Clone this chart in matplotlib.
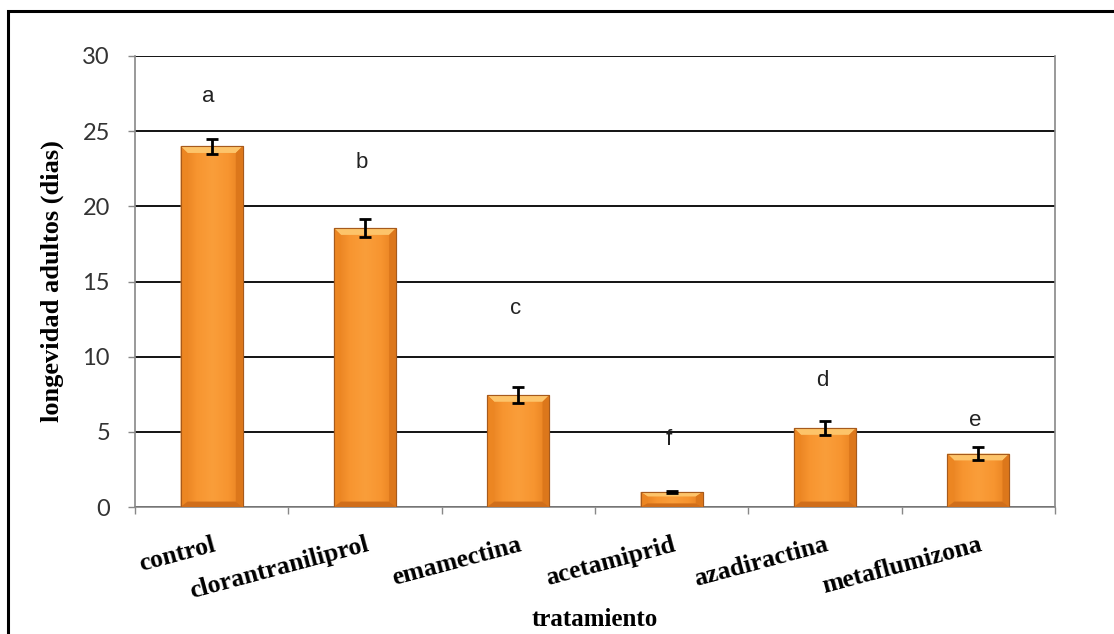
import numpy as np
import matplotlib
matplotlib.use("Agg")
import matplotlib.pyplot as plt
from matplotlib.patches import Polygon, Rectangle

# data
tratamientos = ['control', 'clorantraniliprol', 'emamectina',
                'acetamiprid', 'azadiractina', 'metaflumizona']
longevidad = [24.0, 18.55, 7.45, 1.0, 5.25, 3.55]
error = [0.5, 0.6, 0.53, 0.05, 0.45, 0.42]
letras = ['a', 'b', 'c', 'f', 'd', 'e']
letras_y = [27.3, 22.9, 13.2, 4.5, 8.4, 5.75]

W, H = 1114, 634
fig = plt.figure(figsize=(W / 100, H / 100), dpi=100, facecolor='w')
ax = fig.add_axes([135 / W, 1 - 507 / H, 920 / W, 451 / H])

# outer chart frame (right and bottom edges fall outside the picture)
fig.patches.append(Rectangle((8 / W, -0.05), 1.2, 1 - 11 / H + 0.05,
                             transform=fig.transFigure, fill=False,
                             edgecolor='black', lw=2.2, zorder=0))

x = np.arange(len(tratamientos))
bw = 0.405
bars = ax.bar(x, longevidad, width=bw, color='#F7962F', edgecolor='#A65A1C',
              lw=0.8, zorder=3)

# bevelled look of the bars
grad = np.linspace(0, 1, 64)
grad = 1 - 0.6 * np.abs(grad - 0.5) * 2
cmap = matplotlib.colors.LinearSegmentedColormap.from_list(
    'orange', ['#E67E1E', '#F79530', '#FA9E3A'])
for b, v in zip(bars, longevidad):
    x0 = b.get_x()
    im = ax.imshow(grad[None, :], extent=(x0, x0 + bw, 0, v), aspect='auto',
                   cmap=cmap, vmin=0.4, vmax=1, zorder=3.1)
    im.set_clip_path(b)
    dx, dy = 0.045, min(0.45, v * 0.3)
    ax.add_patch(Polygon([(x0, v), (x0 + bw, v), (x0 + bw - dx, v - dy),
                          (x0 + dx, v - dy)], closed=True,
                         facecolor='#FDC46A', edgecolor='none', zorder=3.2))
    ax.add_patch(Polygon([(x0, 0), (x0 + dx, dy * 0.8), (x0 + dx, v - dy),
                          (x0, v)], closed=True,
                         facecolor='#EC8622', edgecolor='none', zorder=3.2))
    ax.add_patch(Polygon([(x0 + bw, 0), (x0 + bw - dx, dy * 0.8),
                          (x0 + bw - dx, v - dy), (x0 + bw, v)], closed=True,
                         facecolor='#DC771B', edgecolor='none', zorder=3.2))
    ax.add_patch(Polygon([(x0, 0), (x0 + bw, 0), (x0 + bw - dx, dy * 0.8),
                          (x0 + dx, dy * 0.8)], closed=True,
                         facecolor='#D06E1A', edgecolor='none', zorder=3.2))
    ax.add_patch(Rectangle((x0, 0), bw, v, fill=False, edgecolor='#A65A1C',
                           lw=0.8, zorder=3.3))

ax.errorbar(x, longevidad, yerr=error, fmt='none', ecolor='black',
            elinewidth=2, capsize=4.5, capthick=2, zorder=4)

for xi, l, ly in zip(x, letras, letras_y):
    ax.text(xi - 0.02, ly, l, ha='center', va='center', fontsize=16,
            family='Liberation Sans', color='#222222', zorder=5)

ax.set_xlim(-0.5, len(tratamientos) - 0.5)
ax.set_ylim(0, 30)
ax.set_yticks(range(0, 31, 5))
ax.yaxis.grid(True, color='black', lw=1.3)
ax.set_axisbelow(True)

ax.set_xticks(x)
ax.set_xticklabels(tratamientos, rotation=15, ha='right',
                   rotation_mode='anchor', family='Liberation Serif',
                   fontweight='bold', fontsize=18.5)
ax.tick_params(axis='x', length=0, pad=19)
ax.set_xticks(np.arange(-0.5, len(tratamientos)), minor=True)
ax.tick_params(axis='x', which='minor', length=5, color='#888888', width=1)
ax.tick_params(axis='y', length=5, color='#888888', width=1, pad=13,
               labelsize=17, labelcolor='#333333')
for t in ax.get_yticklabels():
    t.set_family('Lato')

for s in ('left', 'bottom', 'right'):
    ax.spines[s].set_color('#888888')
    ax.spines[s].set_linewidth(1.2)
ax.spines['top'].set_visible(False)

ax.set_ylabel('longevidad adultos (dias)', family='Liberation Serif',
              fontweight='bold', fontsize=19)
ax.yaxis.set_label_coords(-(135 - 64) / 920, 0.5)
ax.set_xlabel('tratamiento', family='Liberation Serif', fontweight='bold',
              fontsize=18, va='bottom')
ax.xaxis.set_label_coords((595 - 135) / 920, -(631 - 507) / 451)

fig.savefig('out.png', dpi=100, facecolor='w')
